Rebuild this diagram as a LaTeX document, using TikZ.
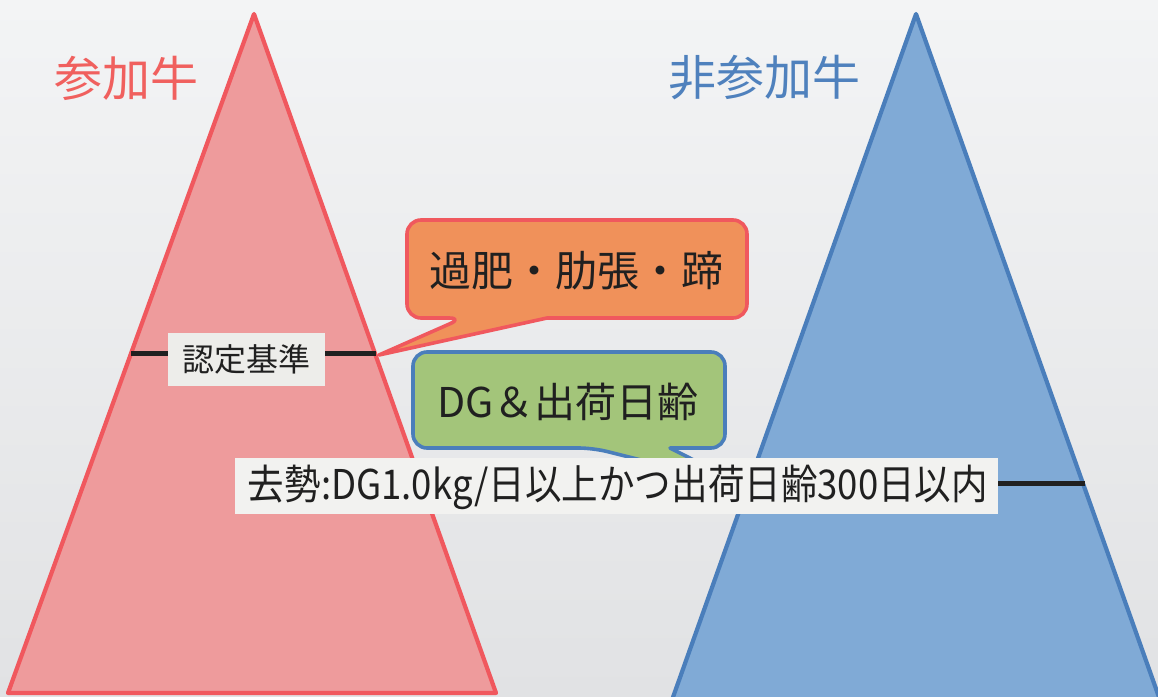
\documentclass[tikz,border=0pt]{standalone}
\usepackage{fontspec}
\setmainfont{Noto Sans CJK JP}
\newfontfamily\jp{Noto Sans CJK JP}
\definecolor{bgtop}{RGB}{243,244,245}
\definecolor{bgbot}{RGB}{225,226,228}
\definecolor{pinkfill}{RGB}{238,155,156}
\definecolor{pinkline}{RGB}{240,88,94}
\definecolor{bluefill}{RGB}{128,170,214}
\definecolor{blueline}{RGB}{74,126,187}
\definecolor{orangefill}{RGB}{240,145,90}
\definecolor{greenfill}{RGB}{163,197,122}
\definecolor{labelfill}{RGB}{237,237,234}
\definecolor{titlered}{RGB}{240,96,94}
\definecolor{titleblue}{RGB}{79,129,189}
\definecolor{textdark}{RGB}{32,32,32}
\tikzset{
  tri/.style={line width=4.2pt, line join=round},
  bar/.style={line width=5pt, draw=textdark},
  callout/.style={line width=3.6pt, line join=round},
  labelbox/.style={fill=labelfill, inner sep=0pt, text=textdark},
  titletext/.style={inner sep=0pt, font=\jp\fontsize{48}{52}\selectfont},
}
\begin{document}
\begin{tikzpicture}[x=1pt,y=-1pt]
\useasboundingbox (0,0) rectangle (1158,696);
\shade[top color=bgtop, bottom color=bgbot] (0,0) rectangle (1158,696);
% triangles
\coordinate (lA) at (254,14);
\coordinate (lL) at (8,693);
\coordinate (lR) at (496,693);
\coordinate (rA) at (916,14);
\coordinate (rL) at (672,700);
\coordinate (rR) at (1160,700);
\draw[tri, fill=pinkfill, draw=pinkline] (lA) -- (lR) -- (lL) -- cycle;
\draw[tri, fill=bluefill, draw=blueline] (rA) -- (rR) -- (rL) -- cycle;
% titles
\node[titletext, text=titlered] (t1) at (126,78) {参加牛};
\node[titletext, text=titleblue] (t2) at (764,78) {非参加牛};
% threshold bars
\coordinate (b1a) at (131,353);
\coordinate (b1b) at (376,353);
\coordinate (b2a) at (750,483);
\coordinate (b2b) at (1085,483);
\draw[bar] (b1a) -- (b1b);
\draw[bar] (b2a) -- (b2b);
\node[labelbox, minimum width=157pt, minimum height=53pt, font=\jp\fontsize{32}{34}\selectfont] (cert) at (246,359) {認定基準};
% orange callout
\coordinate (oTip) at (379,355);
\filldraw[callout, fill=orangefill, draw=pinkline]
  (463,318) -- (oTip) -- (547,318)
  [rounded corners=14pt] -- (747,318) -- (747,220) -- (407,220) -- (407,318) -- cycle;
\node[inner sep=0pt, text=textdark, font=\jp\fontsize{42}{46}\selectfont] (otext) at (576,271) {過肥・肋張・蹄};
% green callout
\coordinate (gTip) at (745,486);
\filldraw[callout, fill=greenfill, draw=blueline]
  (593,448) -- (gTip) -- (670,448)
  [rounded corners=14pt] -- (725,448) -- (725,352) -- (413,352) -- (413,448) -- cycle;
\node[inner sep=0pt, text=textdark, font=\jp\fontsize{41}{44}\selectfont] (gtext) at (568,402) {DG＆出荷日齢};
% big label
\node[labelbox, minimum width=763pt, minimum height=56pt, fill=labelfill!70!white] (crit) at (616,486) {};
\node[inner sep=0pt, text=textdark, font=\jp\fontsize{41}{44}\selectfont] (crittext) at (618,487) {\resizebox{740pt}{\height}{去勢:DG1.0kg/日以上かつ出荷日齢300日以内}};
\end{tikzpicture}
\end{document}
